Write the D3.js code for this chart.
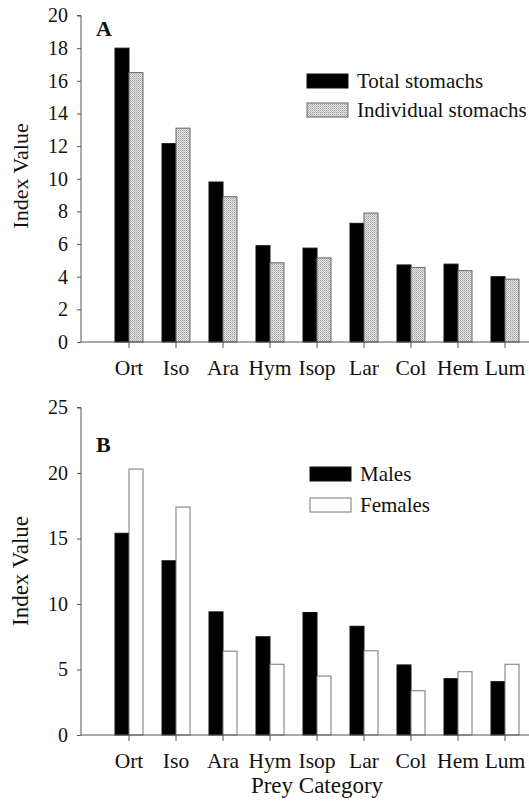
<!DOCTYPE html>
<html>
<head>
<meta charset="utf-8">
<script src="https://cdn.jsdelivr.net/npm/d3@7"></script>
<style>
  html, body { margin: 0; padding: 0; background: #fff; }
  svg { display: block; }
  text { font-family: "Liberation Serif", "Times New Roman", serif; fill: #111; }
</style>
</head>
<body>
<div id="chart"></div>
<script>
// prey categories (shared by both panels)
const categories = ['Ort', 'Iso', 'Ara', 'Hym', 'Isop', 'Lar', 'Col', 'Hem', 'Lum'];

// panel A
const totalStomachs = [18.0, 12.15, 9.8, 5.9, 5.75, 7.27, 4.72, 4.77, 4.0];
const individualStomachs = [16.5, 13.1, 8.9, 4.85, 5.15, 7.9, 4.57, 4.37, 3.85];
const ticksA = [0, 2, 4, 6, 8, 10, 12, 14, 16, 18, 20];

// panel B
const males = [15.4, 13.3, 9.4, 7.5, 9.35, 8.3, 5.35, 4.3, 4.07];
const females = [20.3, 17.4, 6.4, 5.4, 4.5, 6.43, 3.38, 4.83, 5.4];
const ticksB = [0, 5, 10, 15, 20, 25];

const W = 529, H = 809;
const svg = d3.select('#chart').append('svg').attr('width', W).attr('height', H);

// stippled grey fill
const defs = svg.append('defs');
const pat = defs.append('pattern')
  .attr('id', 'stipple')
  .attr('width', 2).attr('height', 2)
  .attr('patternUnits', 'userSpaceOnUse');
pat.append('rect').attr('width', 2).attr('height', 2).attr('fill', '#e6e6e6');
pat.append('rect').attr('width', 1).attr('height', 1).attr('fill', '#9e9e9e');
pat.append('rect').attr('x', 1).attr('y', 1).attr('width', 1).attr('height', 1).attr('fill', '#bababa');

const series = {
  black: { fill: '#000', stroke: '#111' },
  grey: { fill: 'url(#stipple)', stroke: '#666' },
  white: { fill: '#fff', stroke: '#777' }
};

const x = d3.scaleBand().domain(categories).range([105.5, 528.5]).padding(0);
const barW = 14;

function drawPanel(opt) {
  const g = svg.append('g');
  const y = d3.scaleLinear().domain([0, opt.max]).range([opt.bottom, opt.top]);
  const x1 = d3.scaleBand().domain([0, 1])
    .range([x.bandwidth() / 2 - barW, x.bandwidth() / 2 + barW]);

  // bars
  opt.values.forEach((vals, si) => {
    const st = series[opt.styles[si]];
    g.append('g').selectAll('rect')
      .data(vals)
      .join('rect')
      .attr('x', (d, i) => x(categories[i]) + x1(si))
      .attr('width', x1.bandwidth())
      .attr('y', d => y(d))
      .attr('height', d => y(0) - y(d))
      .attr('fill', st.fill)
      .attr('stroke', st.stroke)
      .attr('stroke-width', 1);
  });

  // y axis
  const yAxis = g.append('g')
    .attr('transform', `translate(${opt.left},0)`)
    .call(d3.axisLeft(y).tickValues(opt.ticks).tickSize(4).tickPadding(9).tickFormat(d3.format('d')));
  yAxis.select('.domain').attr('stroke', '#555').attr('d', `M-4,${opt.top}H0V${opt.bottom}`);
  yAxis.selectAll('.tick line').attr('stroke', '#555');
  yAxis.selectAll('.tick text').style('font-size', '20px').attr('fill', '#111')
    .style('font-family', '"Liberation Serif", serif');

  // x axis
  const xAxis = g.append('g')
    .attr('transform', `translate(0,${opt.bottom})`)
    .call(d3.axisBottom(x).tickSize(6).tickPadding(12));
  xAxis.select('.domain').attr('stroke', '#555').attr('d', `M${opt.left},0H${W}`);
  xAxis.selectAll('.tick line').attr('stroke', '#555');
  xAxis.selectAll('.tick text').style('font-size', '21.5px').attr('fill', '#111')
    .style('font-family', '"Liberation Serif", serif');

  // axis title
  g.append('text')
    .attr('transform', `translate(28,${opt.titleY}) rotate(-90)`)
    .attr('text-anchor', 'middle')
    .style('font-size', opt.titleSize)
    .text('Index Value');

  // panel letter
  g.append('text')
    .attr('x', 96).attr('y', opt.letterY)
    .style('font-size', '22px').style('font-weight', 'bold')
    .text(opt.letter);

  // legend
  opt.legend.forEach((name, i) => {
    const st = series[opt.styles[i]];
    const ly = opt.legendY + i * opt.legendGap;
    g.append('rect')
      .attr('x', opt.legendX).attr('y', ly - 14)
      .attr('width', 41).attr('height', 14)
      .attr('fill', st.fill).attr('stroke', st.stroke);
    g.append('text')
      .attr('x', opt.legendX + 50).attr('y', ly)
      .style('font-size', '21px')
      .text(name);
  });
}

drawPanel({
  values: [totalStomachs, individualStomachs],
  styles: ['black', 'grey'],
  legend: ['Total stomachs', 'Individual stomachs'],
  max: 20, ticks: ticksA,
  top: 15.5, bottom: 342, left: 81,
  titleY: 176, titleSize: '22px', letter: 'A', letterY: 36,
  legendX: 307, legendY: 88, legendGap: 29
});

drawPanel({
  values: [males, females],
  styles: ['black', 'white'],
  legend: ['Males', 'Females'],
  max: 25, ticks: ticksB,
  top: 407.5, bottom: 735, left: 81,
  titleY: 571, titleSize: '23px', letter: 'B', letterY: 452,
  legendX: 310, legendY: 481, legendGap: 31
});

// shared x title
svg.append('text')
  .attr('x', 317).attr('y', 793)
  .attr('text-anchor', 'middle')
  .style('font-size', '23px')
  .text('Prey Category');
</script>
</body>
</html>
